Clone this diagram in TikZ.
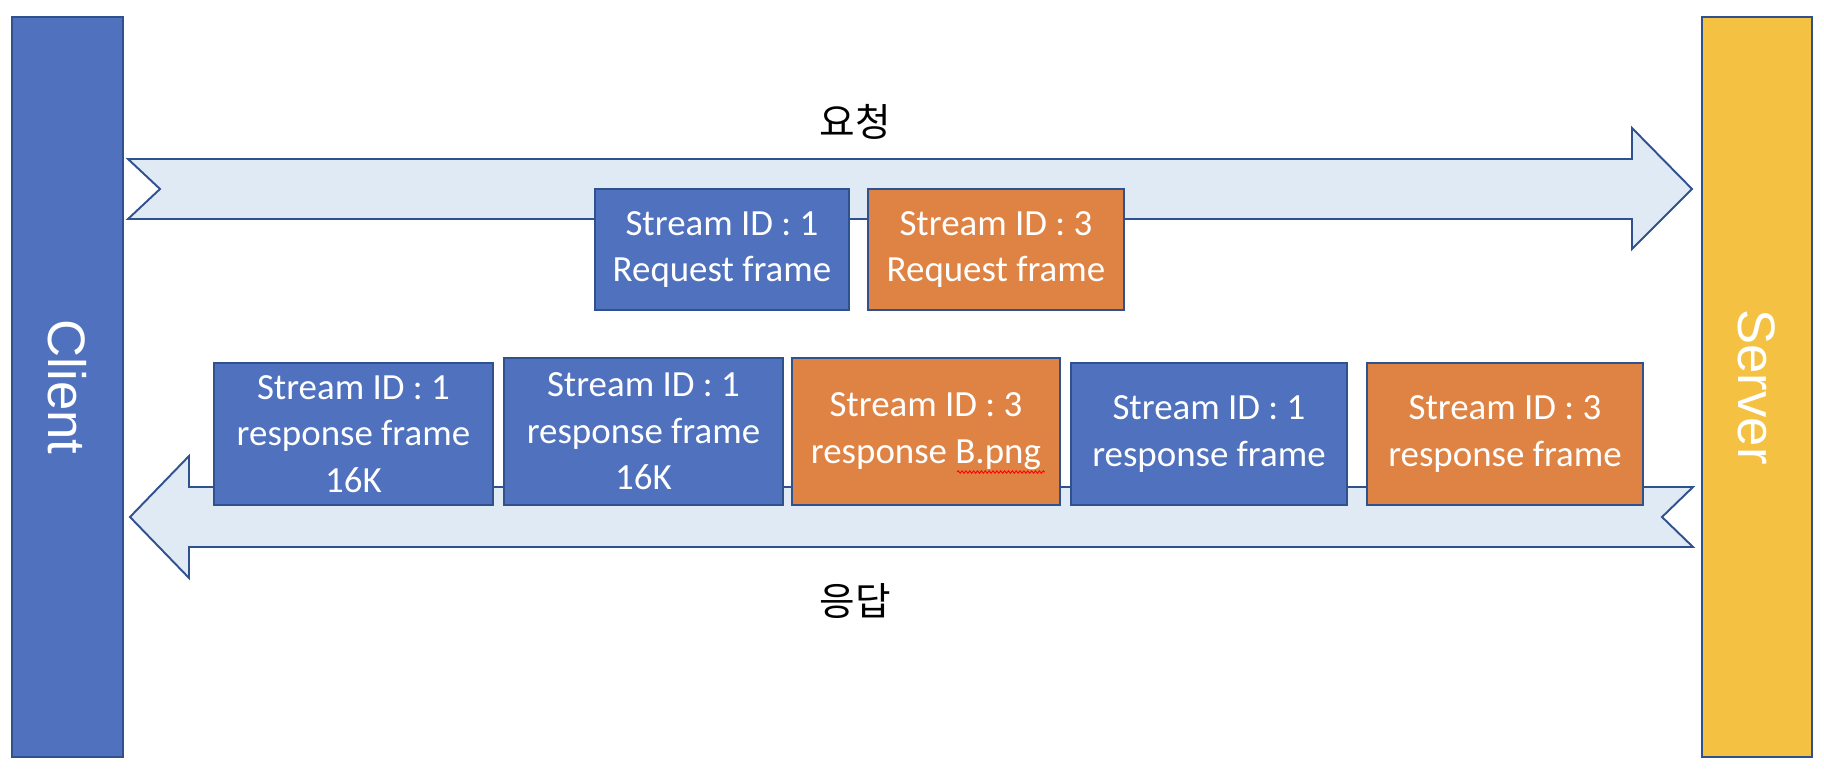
\documentclass[tikz,border=0pt]{standalone}
\usepackage{fontspec}
\setmainfont{Carlito}
\newfontfamily\barfont{Liberation Sans}
\newfontfamily\krfont{Noto Sans CJK KR}
\usetikzlibrary{decorations.pathmorphing}
\definecolor{boxblue}{HTML}{4F71BE}
\definecolor{boxorange}{HTML}{DF8344}
\definecolor{serveryellow}{HTML}{F4C142}
\definecolor{edgeblue}{HTML}{2F528F}
\definecolor{pipefill}{HTML}{E0EAF4}

\begin{document}
\begin{tikzpicture}[x=0.02cm, y=-0.02cm,
frame/.style={
		draw=edgeblue,
		line width=1.1pt,
		text=white,
		align=center,
		inner sep=0pt,
		anchor=north west,
		font=\fontsize{21}{26.5}\selectfont,
		},
one/.style={frame, fill=boxblue},
three/.style={frame, fill=boxorange},
side/.style={
		draw=edgeblue,
		line width=1.1pt,
		text=white,
		rotate=-90,
		minimum width=14.8cm,
		font=\barfont\fontsize{30}{36}\selectfont,
		},
pipe/.style={draw=edgeblue, line width=1.1pt, fill=pipefill},
word/.style={font=\krfont\fontsize{22}{26}\selectfont}
]
\useasboundingbox (0,0) rectangle (1824,776);

% client and server
\node[side, fill=boxblue, minimum height=2.22cm] (client) at (67.5,387) {Client};
\node[side, fill=serveryellow, minimum height=2.2cm] (server) at (1757,387) {Server};

% request / response pipes
\draw[pipe] (128,159) -- (1632,159) -- (1632,128) -- (1692,189) -- (1632,249)
  -- (1632,219) -- (128,219) -- (160,189) -- cycle;
\draw[pipe] (1693,487) -- (189,487) -- (189,456) -- (130,517) -- (189,578)
  -- (189,547) -- (1693,547) -- (1662,517) -- cycle;

\node[word] (req) at (855,122) {요청};
\node[word] (res) at (855,601) {응답};

% request frames
\node[one, minimum width=5.08cm, minimum height=2.42cm] (q1) at (594,188) {Stream ID : 1\\Request frame};
\node[three, minimum width=5.12cm, minimum height=2.42cm] (q3) at (867,188) {Stream ID : 3\\Request frame};

% response frames
\node[one, minimum width=5.58cm, minimum height=2.84cm] (a1) at (213,362) {Stream ID : 1\\response frame\\16K};
\node[one, minimum width=5.58cm, minimum height=2.94cm] (b1) at (503,357) {Stream ID : 1\\response frame\\16K};
\node[three, minimum width=5.36cm, minimum height=2.94cm] (c3) at (791,357) {Stream ID : 3\\response B.png};
\node[one, minimum width=5.52cm, minimum height=2.84cm] (d1) at (1070,362) {Stream ID : 1\\response frame};
\node[three, minimum width=5.52cm, minimum height=2.84cm] (e3) at (1366,362) {Stream ID : 3\\response frame};

\draw[red, line width=0.5pt, decorate, decoration={snake, segment length=2.2pt, amplitude=0.7pt}]
  (957,472) -- (1045,472);

\end{tikzpicture}
\end{document}
